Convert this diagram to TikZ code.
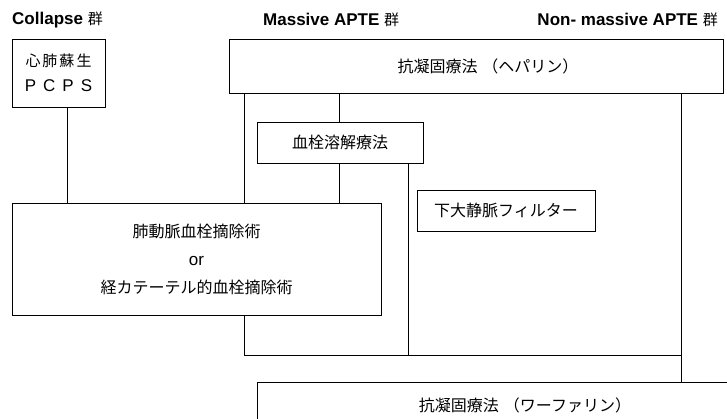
\documentclass[tikz,border=0pt]{standalone}
\usepackage{fontspec}
\newfontfamily\jp{Noto Sans CJK JP}
\newfontfamily\hv{Liberation Sans}
\begin{document}
\begin{tikzpicture}[x=1pt,y=-1pt,
  box/.style={draw, line width=0.9pt, rectangle, inner sep=0pt, font=\jp\fontsize{16}{16}\selectfont},
  conn/.style={line width=0.9pt},
  head/.style={font=\hv\bfseries\fontsize{17}{18}\selectfont, inner sep=0pt}]
\useasboundingbox (0,0) rectangle (727,419);
\clip (0,0) rectangle (727,419);
\fill[white] (0,0) rectangle (727,419);
% headings
\node[head, anchor=west] (h1) at (12,20) {Collapse {\jp\mdseries\fontsize{15}{16}\selectfont 群}};
\node[head, anchor=west] (h2) at (263,20) {Massive APTE {\jp\mdseries\fontsize{15}{16}\selectfont 群}};
\node[head, anchor=east] (h3) at (718,20) {Non- massive APTE {\jp\mdseries\fontsize{15}{16}\selectfont 群}};
% boxes
\node[box, minimum width=93, minimum height=68, align=center] (cpr) at (58.5,73)
  {\jp\fontsize{15}{15}\selectfont 心\hspace{2pt}肺\hspace{2pt}蘇\hspace{2pt}生\\[9pt]{\hv\fontsize{17}{17}\selectfont P\hspace{7pt}C\hspace{7pt}P\hspace{7pt}S}};
\node[box, minimum width=494, minimum height=54] (hep) at (476,66)
  {\hspace*{24pt}抗凝固療法\hspace{5pt}（ヘパリン）};
\node[box, minimum width=166, minimum height=41] (thr) at (340,142.5) {血栓溶解療法};
\node[box, minimum width=178, minimum height=41] (ivc) at (506,210.5) {下大静脈フィルター};
\node[box, minimum width=369, minimum height=112, align=center] (emb) at (196.5,259)
  {肺動脈血栓摘除術\\[12pt]{\hv\fontsize{17}{17}\selectfont or}\\[12pt]経カテーテル的血栓摘除術};
\node[box, minimum width=536, minimum height=46] (war) at (525,405) {抗凝固療法\hspace{5pt}（ワーファリン）};
% connector x positions
\coordinate (xa) at (67,0);
\coordinate (xb) at (244,0);
\coordinate (xc) at (339,0);
\coordinate (xd) at (408,0);
\coordinate (xe) at (681,0);
\coordinate (yj) at (0,355);
% connectors
\draw[conn] (cpr.south -| xa) -- (emb.north -| xa);
\draw[conn] (hep.south -| xb) -- (emb.north -| xb);
\draw[conn] (hep.south -| xc) -- (thr.north -| xc);
\draw[conn] (thr.south -| xc) -- (emb.north -| xc);
\draw[conn] (emb.south -| xb) -- (xb |- yj) -- (xe |- yj);
\draw[conn] (thr.south -| xd) -- (xd |- yj);
\draw[conn] (hep.south -| xe) -- (war.north -| xe);
\end{tikzpicture}
\end{document}
